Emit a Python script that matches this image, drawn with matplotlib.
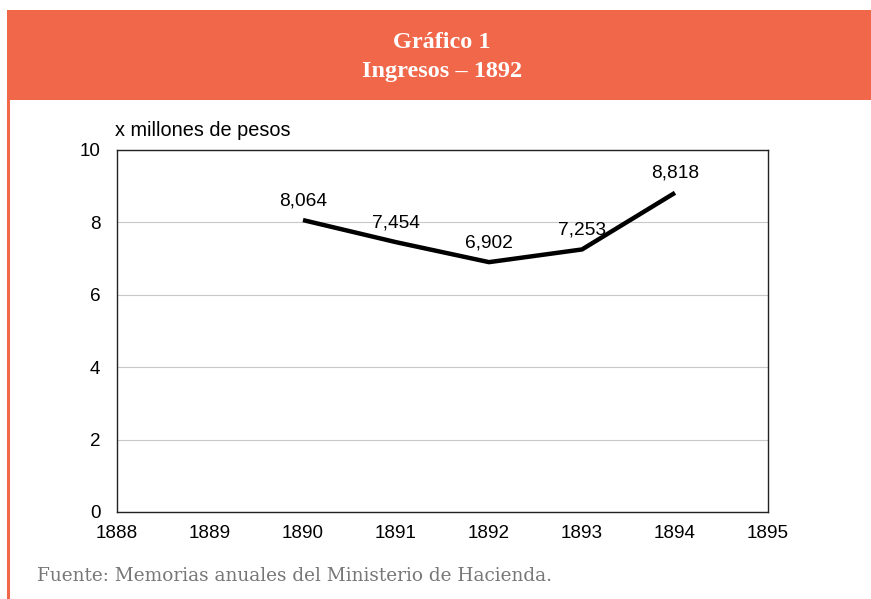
import matplotlib.pyplot as plt
from matplotlib.patches import Rectangle
from matplotlib.lines import Line2D

# Datos: ingresos en millones de pesos
anios = [1890, 1891, 1892, 1893, 1894]
ingresos = [8.064, 7.454, 6.902, 7.253, 8.818]
etiquetas = ["8,064", "7,454", "6,902", "7,253", "8,818"]
x_ticks = [1888, 1889, 1890, 1891, 1892, 1893, 1894, 1895]
y_ticks = [0, 2, 4, 6, 8, 10]

naranja = "#F0674A"
W, H = 871, 599

fig = plt.figure(figsize=(W / 100, H / 100), dpi=100)
fig.patch.set_facecolor("white")

# Banda del título
fig.patches.append(Rectangle((7 / W, 1 - 100 / H), 1 - 7 / W, 90 / H,
                             transform=fig.transFigure, facecolor=naranja,
                             edgecolor="none", zorder=0))
# Borde izquierdo
fig.lines.append(Line2D([8 / W, 8 / W], [0, 1 - 100 / H], transform=fig.transFigure,
                        color=naranja, linewidth=2.2))

fig.text(442 / W, 1 - 43 / H, "Gráfico 1", color="white", fontsize=17.5,
         fontweight="bold", family="Liberation Serif", ha="center", va="center")
fig.text(442 / W, 1 - 72 / H, "Ingresos – 1892", color="white", fontsize=17.5,
         fontweight="bold", family="Liberation Serif", ha="center", va="center")

# Ejes
ax = fig.add_axes([117 / W, 1 - 512 / H, (768 - 117) / W, (512 - 150) / H])
ax.plot(anios, ingresos, color="black", linewidth=3.2, solid_capstyle="butt", zorder=3)
for x, y, t in zip(anios, ingresos, etiquetas):
    ax.annotate(t, (x, y), xytext=(0, 14), textcoords="offset points",
                ha="center", va="center", fontsize=13.8, family="Liberation Sans", zorder=4)

ax.set_xlim(1888, 1895)
ax.set_ylim(0, 10)
ax.set_xticks(x_ticks)
ax.set_yticks(y_ticks)
ax.tick_params(length=0, labelsize=13.6)
ax.tick_params(axis="y", pad=12)
ax.tick_params(axis="x", pad=9)
for lab in ax.get_xticklabels() + ax.get_yticklabels():
    lab.set_family("Liberation Sans")
ax.yaxis.grid(True, color="#c8c8c8", linewidth=0.8)
ax.set_axisbelow(True)
for s in ax.spines.values():
    s.set_color("#222222")
    s.set_linewidth(1.0)

fig.text(115 / W, 1 - 130 / H, "x millones de pesos", fontsize=14.3,
         family="Liberation Sans", ha="left", va="center")

fig.text(37 / W, 1 - 576 / H, "Fuente: Memorias anuales del Ministerio de Hacienda.",
         fontsize=13.3, color="#777777", family="DejaVu Serif", ha="left", va="center")

fig.savefig("out.png", dpi=100)
